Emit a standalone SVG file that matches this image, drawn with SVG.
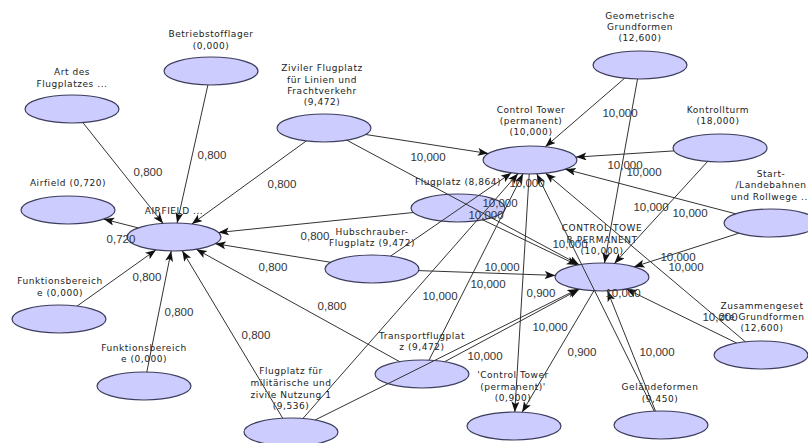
<svg xmlns="http://www.w3.org/2000/svg" width="808" height="443" viewBox="0 0 808 443">
<defs>
<marker id="arr" markerUnits="userSpaceOnUse" markerWidth="11" markerHeight="9" refX="10.5" refY="4" orient="auto">
<path d="M0,0 L10.5,4 L0,8 L2.5,4 z" fill="#111"/>
</marker>
</defs>
<style>
.n ellipse{fill:#ccccff;stroke:#3d3d5c;stroke-width:1.2}
.n text{font-family:"DejaVu Sans",sans-serif;font-size:9px;letter-spacing:0.55px;fill:#222;text-anchor:middle}
#edges line{stroke:#333;stroke-width:1;marker-end:url(#arr)}
#edges text{font-family:"Liberation Sans",Arial,sans-serif;font-size:11.5px;fill:#333;text-anchor:middle}
</style>
<rect width="808" height="443" fill="#fff"/>

<g id="n-art" class="n"><ellipse cx="72" cy="109" rx="47" ry="14"/><text x="72" y="75">Art des</text><text x="72" y="87">Flugplatzes ...</text></g>
<g id="n-betr" class="n"><ellipse cx="211" cy="71" rx="47" ry="14"/><text x="211" y="37">Betriebstofflager</text><text x="211" y="49">(0,000)</text></g>
<g id="n-ziv" class="n"><ellipse cx="324" cy="128" rx="47" ry="14"/><text x="322" y="71">Ziviler Flugplatz</text><text x="322" y="83">für Linien und</text><text x="322" y="94">Frachtverkehr</text><text x="322" y="105">(9,472)</text></g>
<g id="n-geo" class="n"><ellipse cx="640" cy="65" rx="47" ry="14"/><text x="640" y="19">Geometrische</text><text x="640" y="30">Grundformen</text><text x="640" y="41">(12,600)</text></g>
<g id="n-kontr" class="n"><ellipse cx="720" cy="148" rx="47" ry="14"/><text x="718" y="113">Kontrollturm</text><text x="718" y="124">(18,000)</text></g>
<g id="n-ct1" class="n"><ellipse cx="530" cy="160" rx="47" ry="14"/><text x="531" y="113">Control Tower</text><text x="531" y="124">(permanent)</text><text x="531" y="135">(10,000)</text></g>
<g id="n-airfield" class="n"><ellipse cx="68" cy="210" rx="47" ry="14"/><text x="68" y="186">Airfield (0,720)</text></g>
<g id="n-AIRFIELD" class="n"><ellipse cx="174" cy="237" rx="47" ry="14"/><text x="174" y="214">AIRFIELD ...</text></g>
<g id="n-flug" class="n"><ellipse cx="458" cy="208" rx="47" ry="14"/><text x="458" y="185">Flugplatz (8,864)</text></g>
<g id="n-hub" class="n"><ellipse cx="372" cy="269" rx="47" ry="14"/><text x="372" y="235">Hubschrauber-</text><text x="372" y="246">Flugplatz (9,472)</text></g>
<g id="n-start" class="n"><ellipse cx="771" cy="223" rx="47" ry="14"/><text x="771" y="177">Start-</text><text x="771" y="188">/Landebahnen</text><text x="771" y="200">und Rollwege ...</text></g>
<g id="n-ct2" class="n"><ellipse cx="602" cy="277" rx="47" ry="14"/><text x="602" y="231">CONTROL TOWE</text><text x="602" y="243">R PERMANENT</text><text x="602" y="254">(10,000)</text></g>
<g id="n-funk1" class="n"><ellipse cx="59" cy="319" rx="47" ry="14"/><text x="60" y="284">Funktionsbereich</text><text x="60" y="296">e (0,000)</text></g>
<g id="n-funk2" class="n"><ellipse cx="144" cy="386" rx="47" ry="14"/><text x="144" y="351">Funktionsbereich</text><text x="144" y="362">e (0,000)</text></g>
<g id="n-mil" class="n"><ellipse cx="291" cy="432" rx="47" ry="14"/><text x="291" y="374">Flugplatz für</text><text x="291" y="386">militärische und</text><text x="291" y="398">zivile Nutzung 1</text><text x="291" y="409">(9,536)</text></g>
<g id="n-trans" class="n"><ellipse cx="422" cy="374" rx="47" ry="14"/><text x="422" y="339">Transportflugplat</text><text x="422" y="350">z (9,472)</text></g>
<g id="n-ctq" class="n"><ellipse cx="514" cy="426" rx="47" ry="14"/><text x="513" y="378">'Control Tower</text><text x="513" y="390">(permanent)'</text><text x="513" y="401">(0,900)</text></g>
<g id="n-gel" class="n"><ellipse cx="661" cy="425" rx="47" ry="14"/><text x="660" y="390">Geländeformen</text><text x="660" y="402">(9,450)</text></g>
<g id="n-zus" class="n"><ellipse cx="761" cy="355" rx="47" ry="14"/><text x="762" y="309">Zusammengeset</text><text x="762" y="320">zte Grundformen</text><text x="762" y="331">(12,600)</text></g>

<g id="edges">
<line x1="82.9" y1="122.6" x2="163.1" y2="223.4"/>
<line x1="207.9" y1="85" x2="177.1" y2="223"/>
<line x1="306.2" y1="141" x2="191.8" y2="224"/>
<line x1="413.5" y1="212.5" x2="218.5" y2="232.5"/>
<line x1="330.7" y1="262.3" x2="215.3" y2="243.7"/>
<line x1="138.3" y1="227.9" x2="103.7" y2="219.1"/>
<line x1="77.1" y1="306.1" x2="155.9" y2="249.9"/>
<line x1="146.8" y1="372" x2="171.2" y2="251"/>
<line x1="282.7" y1="418.2" x2="182.3" y2="250.8"/>
<line x1="399.7" y1="361.7" x2="196.3" y2="249.3"/>
<line x1="365.7" y1="134.5" x2="488.3" y2="153.5"/>
<line x1="624.7" y1="78.2" x2="545.3" y2="146.8"/>
<line x1="674" y1="150.9" x2="576" y2="157.1"/>
<line x1="735.7" y1="213.8" x2="565.3" y2="169.2"/>
<line x1="654.2" y1="411.1" x2="536.8" y2="173.9"/>
<line x1="745.4" y1="341.8" x2="545.6" y2="173.2"/>
<line x1="390.6" y1="256.1" x2="511.4" y2="172.9"/>
<line x1="302.9" y1="418.5" x2="518.1" y2="173.5"/>
<line x1="429" y1="360.2" x2="523" y2="173.8"/>
<line x1="529.2" y1="174" x2="514.8" y2="412"/>
<line x1="346.8" y1="140.2" x2="579.2" y2="264.8"/>
<line x1="482.8" y1="219.9" x2="577.2" y2="265.1"/>
<line x1="418.7" y1="270.6" x2="555.3" y2="275.4"/>
<line x1="444.7" y1="361.7" x2="579.3" y2="289.3"/>
<line x1="315.1" y1="420" x2="577.9" y2="289"/>
<line x1="637.5" y1="79" x2="604.5" y2="263"/>
<line x1="707.6" y1="161.5" x2="614.4" y2="263.5"/>
<line x1="738.9" y1="233.2" x2="634.1" y2="266.8"/>
<line x1="736.6" y1="343" x2="626.4" y2="289"/>
<line x1="655.5" y1="411.1" x2="607.5" y2="290.9"/>
<line x1="593.9" y1="290.8" x2="522.1" y2="412.2"/>

<text x="148" y="176">0,800</text>
<text x="212" y="159">0,800</text>
<text x="282" y="188">0,800</text>
<text x="315" y="240">0,800</text>
<text x="147" y="281">0,800</text>
<text x="273" y="271">0,800</text>
<text x="179" y="316">0,800</text>
<text x="256" y="339">0,800</text>
<text x="332" y="310">0,800</text>
<text x="121" y="243">0,720</text>
<text x="428" y="161">10,000</text>
<text x="620" y="117">10,000</text>
<text x="625" y="169">10,000</text>
<text x="644" y="176">10,000</text>
<text x="651" y="211">10,000</text>
<text x="690" y="217">10,000</text>
<text x="570" y="248">10,000</text>
<text x="678" y="261">10,000</text>
<text x="686" y="271">10,000</text>
<text x="623" y="297">10,000</text>
<text x="527" y="187">10,000</text>
<text x="500" y="207">10,000</text>
<text x="486" y="219">10,000</text>
<text x="502" y="271">10,000</text>
<text x="488" y="288">10,000</text>
<text x="440" y="300">10,000</text>
<text x="550" y="331">10,000</text>
<text x="485" y="360">10,000</text>
<text x="657" y="356">10,000</text>
<text x="720" y="321">10,000</text>
<text x="541" y="297">0,900</text>
<text x="582" y="356">0,900</text>
</g>
</svg>
